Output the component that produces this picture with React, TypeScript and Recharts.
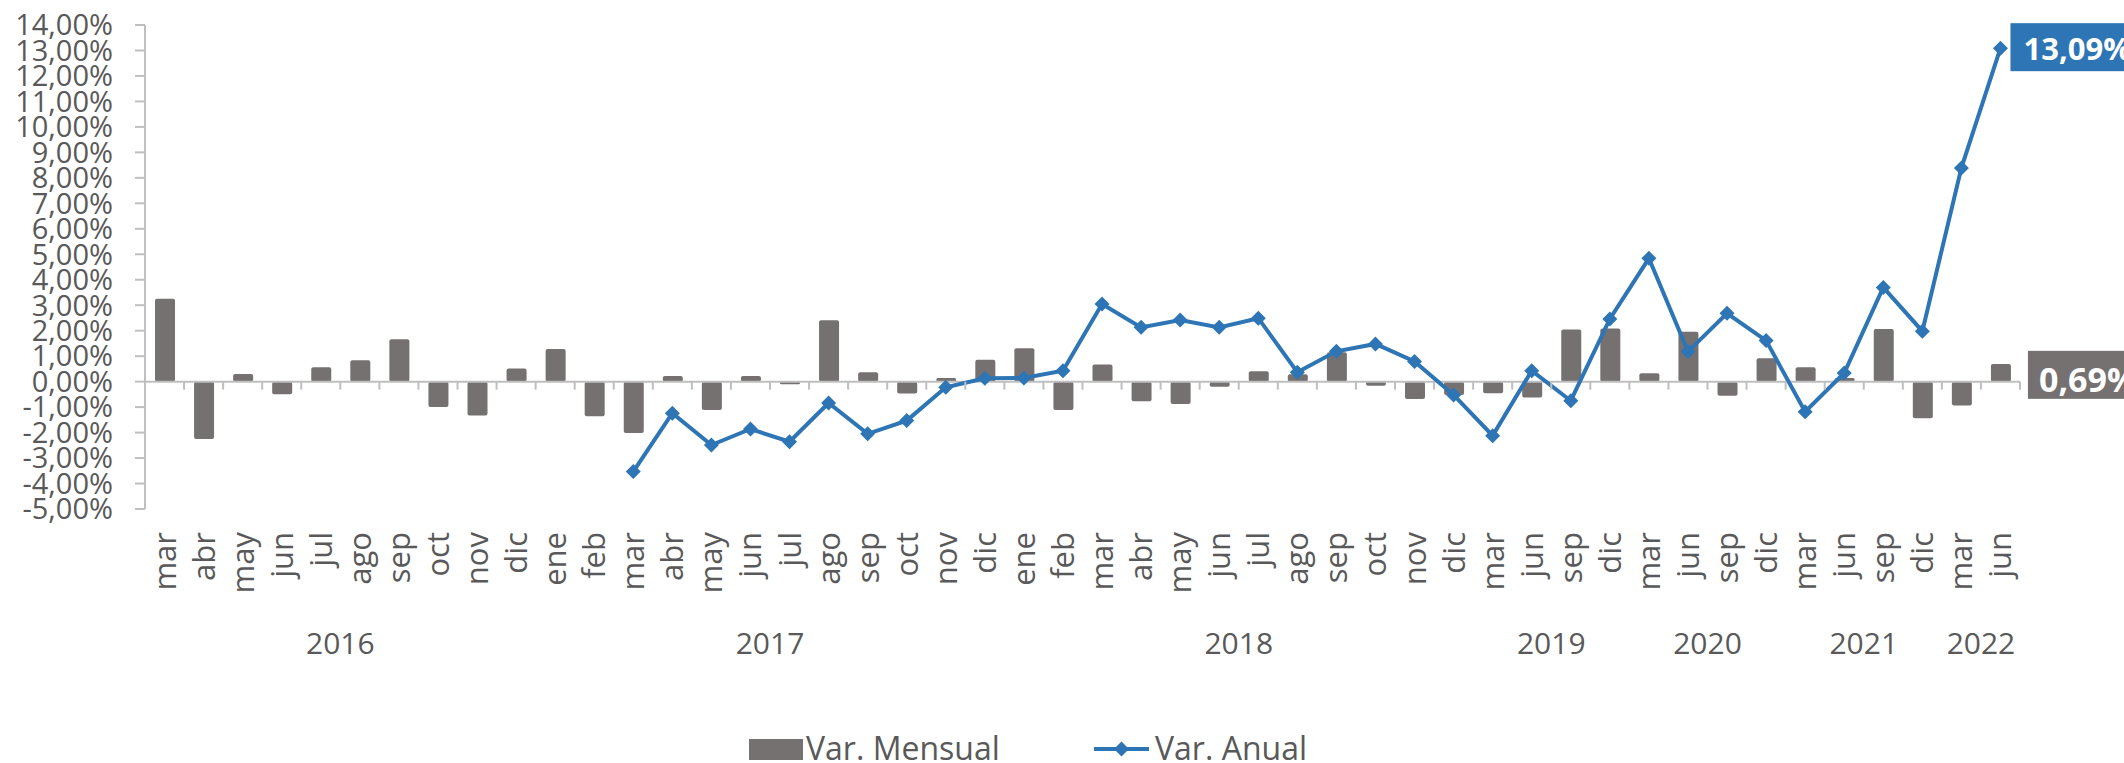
import React from "react";
import {
  ComposedChart,
  Bar,
  Line,
  XAxis,
  YAxis,
  ReferenceLine,
  Legend,
  LabelList,
} from "recharts";

const months = [
  "mar", "abr", "may", "jun", "jul", "ago", "sep", "oct", "nov", "dic",
  "ene", "feb", "mar", "abr", "may", "jun", "jul", "ago", "sep", "oct", "nov", "dic",
  "ene", "feb", "mar", "abr", "may", "jun", "jul", "ago", "sep", "oct", "nov", "dic",
  "mar", "jun", "sep", "dic",
  "mar", "jun", "sep", "dic",
  "mar", "jun", "sep", "dic",
  "mar", "jun",
];

const years = ["2016", "2017", "2018", "2019", "2020", "2021", "2022"];
const yearCounts = [10, 12, 12, 4, 4, 4, 2];

const mensual = [
  3.25, -2.25, 0.3, -0.5, 0.56, 0.84, 1.66, -1.0, -1.33, 0.52,
  1.28, -1.36, -2.02, 0.22, -1.11, 0.22, -0.1, 2.41, 0.37, -0.47, 0.14, 0.86,
  1.31, -1.11, 0.67, -0.77, -0.88, -0.2, 0.41, 0.29, 1.15, -0.16, -0.68, -0.52,
  -0.46, -0.62, 2.05, 2.09,
  0.33, 1.96, -0.55, 0.92,
  0.56, 0.14, 2.07, -1.44,
  -0.94, 0.69,
];

const anual = [
  null, null, null, null, null, null, null, null, null, null,
  null, null, -3.53, -1.24, -2.49, -1.86, -2.36, -0.84, -2.05, -1.53, -0.22, 0.13,
  0.14, 0.43, 3.05, 2.13, 2.42, 2.13, 2.49, 0.37, 1.19, 1.48, 0.79, -0.52,
  -2.12, 0.43, -0.75, 2.46,
  4.84, 1.18, 2.68, 1.61,
  -1.18, 0.34, 3.7, 1.98,
  8.39, 13.09,
];

const yTicks = [-5, -4, -3, -2, -1, 0, 1, 2, 3, 4, 5, 6, 7, 8, 9, 10, 11, 12, 13, 14];

const GRAY = "#767171";
const BLUE = "#2E75B6";
const AXIS = "#BFBFBF";
const TEXT = "#595959";
const FONT = "'Century Gothic', 'Open Sans', sans-serif";

const W = 2124;
const H = 763;
const MARGIN = { top: 25, right: 104, left: 0, bottom: 0 };
const Y_AXIS_W = 145;
const X_AXIS_H = 218;
const LEGEND_H = 36;
const PLOT_W = W - MARGIN.left - MARGIN.right - Y_AXIS_W;
const PLOT_H = H - MARGIN.top - MARGIN.bottom - X_AXIS_H - LEGEND_H;
const BAND = PLOT_W / months.length;
const Y_MIN = yTicks[0];
const Y_MAX = yTicks[yTicks.length - 1];
const ZERO_Y = MARGIN.top + (Y_MAX / (Y_MAX - Y_MIN)) * PLOT_H;

const data = months.map((m, i) => ({
  month: m,
  mensual: mensual[i],
  anual: anual[i],
}));

// first index of each year group
const yearStarts: Record<number, { year: string; count: number }> = {};
{
  let s = 0;
  years.forEach((y, i) => {
    yearStarts[s] = { year: y, count: yearCounts[i] };
    s += yearCounts[i];
  });
}

const fmt = (v: number) => `${v.toFixed(2).replace(".", ",")}%`;

const MonthTick = ({ x, y, payload, index }: any) => {
  const group = yearStarts[index];
  const edge = x + BAND / 2;
  return (
    <g>
      <line x1={edge} x2={edge} y1={ZERO_Y} y2={ZERO_Y + 8} stroke={AXIS} strokeWidth={2} />
      <text
        transform={`translate(${x + 11},${y + 23}) rotate(-90)`}
        textAnchor="end"
        fontSize={31}
        fontFamily={FONT}
        fill={TEXT}
      >
        {payload.value}
      </text>
      {group && (
        <text
          x={x - BAND / 2 + (group.count * BAND) / 2}
          y={654}
          textAnchor="middle"
          fontSize={30}
          fontFamily={FONT}
          fill={TEXT}
        >
          {group.year}
        </text>
      )}
    </g>
  );
};

const Diamond = ({ cx, cy }: any) => {
  if (cx == null || cy == null) return null;
  const r = 7.5;
  return (
    <polygon
      points={`${cx},${cy - r} ${cx + r},${cy} ${cx},${cy + r} ${cx - r},${cy}`}
      fill={BLUE}
    />
  );
};

const pick = (props: any) => {
  const vb = props.viewBox || {};
  return {
    x: props.x ?? vb.x,
    y: props.y ?? vb.y,
    width: props.width ?? vb.width ?? 0,
    height: props.height ?? vb.height ?? 0,
  };
};

const LineEndLabel = (props: any) => {
  const { index, value } = props;
  if (index !== anual.length - 1 || value == null) return null;
  const { x, y } = pick(props);
  const top = y - 25;
  return (
    <g>
      <rect x={x + 10} y={top} width={140} height={48} fill={BLUE} />
      <text x={x + 23} y={top + 37} fill="#fff" fontSize={31} fontWeight={700} fontFamily={FONT}>
        {fmt(Number(value))}
      </text>
    </g>
  );
};

const BarEndLabel = (props: any) => {
  const { index, value } = props;
  if (index !== mensual.length - 1 || value == null) return null;
  const { x, y, width, height } = pick(props);
  const top = y + height / 2 - 22;
  return (
    <g>
      <rect x={x + width + 17} y={top} width={120} height={48} fill={GRAY} />
      <text x={x + width + 28} y={top + 41} fill="#fff" fontSize={34} fontWeight={700} fontFamily={FONT}>
        {fmt(Number(value))}
      </text>
    </g>
  );
};

const legendText: React.CSSProperties = {
  position: "absolute",
  top: 6,
  lineHeight: "30px",
  fontSize: 32,
  whiteSpace: "nowrap",
};

const LegendContent = () => (
  <div style={{ position: "relative", height: LEGEND_H, fontFamily: FONT, color: TEXT }}>
    <div style={{ position: "absolute", left: 749, top: 12, width: 54, height: 21, background: GRAY }} />
    <div style={{ ...legendText, left: 806 }}>Var. Mensual</div>
    <svg style={{ position: "absolute", left: 1094, top: 6 }} width={56} height={30}>
      <line x1={0} x2={55} y1={16} y2={16} stroke={BLUE} strokeWidth={4} />
      <polygon points="27.5,8.5 35,16 27.5,23.5 20,16" fill={BLUE} />
    </svg>
    <div style={{ ...legendText, left: 1155 }}>Var. Anual</div>
  </div>
);

export default function App() {
  return (
    <div style={{ width: W, height: H, background: "#fff" }}>
      <style>{"body{margin:0;overflow:hidden}"}</style>
      <ComposedChart width={W} height={H} data={data} margin={MARGIN}>
        <XAxis
          dataKey="month"
          interval={0}
          axisLine={false}
          tickLine={false}
          tickSize={0}
          tickMargin={0}
          height={X_AXIS_H}
          tick={<MonthTick />}
        />
        <YAxis
          domain={[Y_MIN, Y_MAX]}
          ticks={yTicks}
          interval={0}
          width={Y_AXIS_W}
          tickSize={10}
          tickMargin={22}
          axisLine={{ stroke: AXIS, strokeWidth: 2 }}
          tickLine={{ stroke: AXIS, strokeWidth: 2 }}
          tick={{ fill: TEXT, fontSize: 29, fontFamily: FONT }}
          tickFormatter={(v: number) => fmt(v)}
        />
        <ReferenceLine y={0} stroke={AXIS} strokeWidth={2} />
        <Bar dataKey="mensual" name="Var. Mensual" fill={GRAY} barSize={20} radius={2} isAnimationActive={false}>
          <LabelList dataKey="mensual" content={<BarEndLabel />} />
        </Bar>
        <Line
          dataKey="anual"
          name="Var. Anual"
          stroke={BLUE}
          strokeWidth={4}
          dot={<Diamond />}
          activeDot={false}
          isAnimationActive={false}
        >
          <LabelList dataKey="anual" content={<LineEndLabel />} />
        </Line>
        <Legend verticalAlign="bottom" content={<LegendContent />} />
      </ComposedChart>
    </div>
  );
}
